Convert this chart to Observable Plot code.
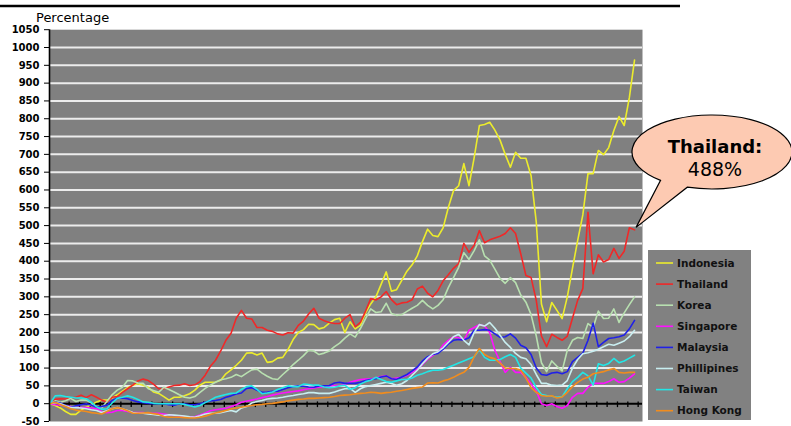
<!DOCTYPE html>
<html><head><meta charset="utf-8">
<script src="https://cdn.jsdelivr.net/npm/d3@7"></script>
<script src="https://cdn.jsdelivr.net/npm/@observablehq/plot@0.6"></script>
<style>body{margin:0;background:#fff;} svg{display:block;}</style>
</head><body><div id="chart"></div>
<script>
// ---- data (percentage change) ----
const seriesNames = ["Indonesia","Thailand","Korea","Singapore","Malaysia","Phillipines","Taiwan","Hong Kong"];
const seriesColors = ["#ecec2c","#f02828","#b8e0b0","#ff10ff","#2020e8","#c8eef0","#22e6e6","#f08c1e"];
const yTickLabels = [-50,0,50,100,150,200,250,300,350,400,450,500,550,600,650,700,750,800,850,900,950,1000,1050];
const callout = ["Thailand:", "488%"];

const indonesia = [0,-5,-12,-22,-30,-30,-18,-10,-3,5,
10,10,16,25,35,45,52,56,52,46,
33,29,20,10,18,18,22,28,38,52,
60,60,61,66,84,95,108,122,142,143,
137,142,116,118,128,130,152,180,200,208,
223,222,210,214,226,236,240,200,230,210,
220,255,280,300,335,370,316,320,346,372,
390,415,455,490,472,469,494,551,598,612,
674,612,691,781,784,790,768,740,700,664,
706,689,689,640,510,280,230,284,262,239,
300,380,458,530,646,646,711,699,719,767,
806,781,860,965];
const thailand = [0,12,14,13,15,18,24,17,25,18,
10,5,18,20,32,42,52,64,69,65,
55,42,42,47,51,52,56,51,53,62,
80,105,122,148,178,198,240,262,240,238,
214,214,206,203,196,193,199,198,220,232,
252,268,240,233,228,225,225,240,250,216,
228,260,295,291,300,315,292,278,283,285,
292,322,330,310,300,318,345,362,380,393,
450,425,445,486,452,460,465,470,478,494,
478,421,360,354,290,190,160,195,186,178,
190,240,290,323,537,365,418,398,405,436,
408,428,494,488];
const korea = [0,8,4,8,15,6,10,10,2,-10,
-12,6,25,38,46,65,64,58,57,42,
37,32,46,40,33,25,18,16,20,32,
43,52,60,67,70,74,82,76,86,95,
97,86,77,70,68,82,95,110,122,135,
150,148,138,142,148,160,170,184,196,187,
211,239,266,256,258,282,253,248,250,259,
268,276,290,276,266,276,292,326,354,383,
424,405,430,460,415,403,378,352,338,354,
340,305,285,250,190,115,90,120,105,92,
150,178,186,183,225,214,260,239,240,266,
228,255,278,300];
const singapore = [0,-3,-4,-5,-8,-10,-11,-11,-12,-14,
-22,-25,-24,-19,-19,-22,-25,-25,-25,-27,
-27,-27,-29,-31,-33,-34,-36,-37,-37,-32,
-26,-20,-17,-15,-13,-8,-3,4,7,10,
13,17,20,24,27,30,32,34,36,39,
42,44,46,48,50,51,51,54,60,64,
68,69,70,72,76,78,70,72,74,79,
88,98,110,125,136,144,165,178,188,185,
178,206,214,222,218,200,150,118,88,102,
88,88,74,55,36,0,-5,0,-8,-13,
-5,18,29,29,46,57,57,57,62,70,
60,62,72,84];
const malaysia = [0,5,2,-5,-11,-6,-3,0,-4,-10,
-8,-4,9,15,16,14,9,5,3,1,
0,0,0,-3,-4,0,0,-3,-3,0,
4,8,9,12,18,22,27,30,43,45,
38,32,33,35,35,40,45,48,50,49,
47,46,50,50,51,58,60,57,57,57,
60,65,68,70,75,78,70,68,75,82,
92,103,120,132,138,141,153,168,178,180,
179,185,206,206,208,206,196,186,188,196,
184,164,157,138,100,82,80,86,88,84,
90,118,130,142,178,226,160,172,183,185,
188,193,210,234];
const phillipines = [0,3,0,-6,-11,-11,-12,-14,-17,-19,
-25,-20,-14,-11,-15,-19,-25,-27,-27,-29,
-30,-32,-33,-31,-32,-33,-35,-37,-38,-34,
-29,-27,-27,-25,-22,-19,-23,-12,-8,2,
6,9,13,15,16,18,21,23,26,28,
31,31,29,29,29,33,38,42,43,32,
42,48,51,54,57,60,57,52,56,65,
80,94,112,128,140,146,157,172,188,195,
178,165,200,222,218,228,212,192,172,158,
141,130,126,110,82,57,57,52,51,52,
65,100,124,140,143,147,153,160,167,164,
170,176,188,206];
const taiwan = [0,22,23,20,18,16,16,14,4,-9,
-16,-14,2,15,18,22,18,12,5,4,
1,0,0,0,0,0,-2,-6,-9,-5,
3,10,18,22,26,29,30,40,48,50,
40,28,30,33,40,45,50,48,48,55,
54,52,52,47,45,46,50,52,40,45,
55,62,66,74,68,62,60,64,68,68,
72,80,84,90,94,94,96,102,108,114,
120,126,132,152,130,122,122,124,132,138,
130,100,86,72,45,26,23,21,18,20,
42,62,74,88,78,52,112,107,113,127,
115,120,128,136];
const hongKong = [0,4,-2,-8,-14,-18,-20,-22,-25,-27,
-29,-22,-14,-11,-14,-20,-27,-27,-26,-25,
-28,-30,-36,-38,-38,-38,-39,-40,-40,-38,
-35,-30,-26,-23,-19,-15,-12,-10,-7,-5,
-3,-2,0,1,3,5,8,10,12,13,
15,15,16,17,18,20,23,24,25,27,
29,30,32,31,29,31,32,35,37,40,
43,45,47,58,59,58,64,68,74,82,
88,102,132,155,138,130,126,114,100,99,
99,94,72,45,32,23,21,22,16,19,
32,48,60,69,74,84,87,90,95,99,
88,86,88,88];
const seriesValues = [indonesia,thailand,korea,singapore,malaysia,phillipines,taiwan,hongKong];

// ---- layout ----
const W = 791, H = 426;
const plotLeft = 49, plotRight = 642, firstX = 49.5, step = 5.173;
const periods = indonesia.map((_, i) => i);
const xDomain = [(plotLeft - firstX) / step, (plotRight - firstX) / step];
const xTickPos = d3.range(57).map(k => 1.7 + 2 * k);
const gridVals = yTickLabels.filter(v => v > 0 && v < 1050);

const lineMarks = seriesNames.map((name, k) =>
  Plot.line(periods, {x: i => i, y: i => seriesValues[k][i], stroke: seriesColors[k], strokeWidth: 1.6, strokeLinejoin: "round"})
);

const chart = Plot.plot({
  width: W, height: H,
  marginLeft: plotLeft, marginRight: W - plotRight, marginTop: 29.2, marginBottom: 5,
  style: {background: "transparent", fontFamily: "DejaVu Sans", color: "#000", overflow: "visible"},
  x: {domain: xDomain, axis: null},
  y: {domain: [-50, 1050], axis: null},
  marks: [
    Plot.frame({fill: "#808080", stroke: null}),
    Plot.ruleY(gridVals, {stroke: "#ececec", strokeWidth: 2}),
    Plot.ruleY([0], {stroke: "#000", strokeWidth: 2}),
    Plot.ruleX(xTickPos, {y1: 5, y2: -11, stroke: "#000", strokeWidth: 1.3}),
    ...lineMarks,
    Plot.ruleX([xDomain[0]], {stroke: "#000", strokeWidth: 1.6}),
    Plot.axisY({ticks: yTickLabels, tickFormat: d => String(d), tickSize: 5, tickPadding: 5, stroke: "#000", fontSize: 10, fontWeight: "bold"})
  ]
});
document.getElementById("chart").appendChild(chart);

const svg = d3.select(chart);
svg.selectAll('g[aria-label="y-axis tick label"] text').style("font-weight", "bold").style("font-size", "10px").style("font-family", "DejaVu Sans");

// top rule and axis title
svg.append("line").attr("x1", 0).attr("x2", 680).attr("y1", 6).attr("y2", 6).attr("stroke", "#000").attr("stroke-width", 2.4);
svg.append("text").attr("x", 36).attr("y", 22).attr("text-anchor", "start").text("Percentage")
  .style("font-family", "DejaVu Sans").style("font-size", "13px").attr("fill", "#000");

// legend
const lg = svg.append("g").attr("text-anchor", "start");
lg.append("rect").attr("x", 648).attr("y", 250).attr("width", 103).attr("height", 170).attr("fill", "#818181");
seriesNames.forEach((name, k) => {
  const y = 263 + k * 21.1;
  lg.append("line").attr("x1", 656).attr("x2", 673).attr("y1", y).attr("y2", y).attr("stroke", seriesColors[k]).attr("stroke-width", 1.6);
  lg.append("text").attr("x", 677).attr("y", y).attr("dy", "0.36em").attr("text-anchor", "start").text(name)
    .style("font-family", "DejaVu Sans").style("font-weight", "bold").style("font-size", "10.5px").attr("fill", "#111");
});

// callout pointing to the last Thailand value
const sx = chart.scale("x"), sy = chart.scale("y");
const tipX = sx.apply(periods[periods.length - 1]) + 2;
const tipY = sy.apply(thailand[thailand.length - 1]) - 2;
const cx = 712, cy = 152, rx = 80, ry = 37;
const a1 = 130 * Math.PI / 180, a2 = 108 * Math.PI / 180;
const p1 = [cx + rx * Math.cos(a1), cy + ry * Math.sin(a1)];
const p2 = [cx + rx * Math.cos(a2), cy + ry * Math.sin(a2)];
svg.append("path")
  .attr("d", `M${tipX},${tipY}L${p1[0]},${p1[1]}A${rx},${ry} 0 1 1 ${p2[0]},${p2[1]}Z`)
  .attr("fill", "#fdcab2").attr("stroke", "#000").attr("stroke-width", 1.2).attr("stroke-linejoin", "miter");
svg.append("text").attr("x", 715).attr("y", 153).attr("text-anchor", "middle").text(callout[0])
  .style("font-family", "DejaVu Sans").style("font-weight", "bold").style("font-size", "18px").attr("fill", "#000");
svg.append("text").attr("x", 715).attr("y", 176).attr("text-anchor", "middle").text(callout[1])
  .style("font-family", "DejaVu Sans").style("font-size", "19px").attr("fill", "#000");
</script>
</body></html>
